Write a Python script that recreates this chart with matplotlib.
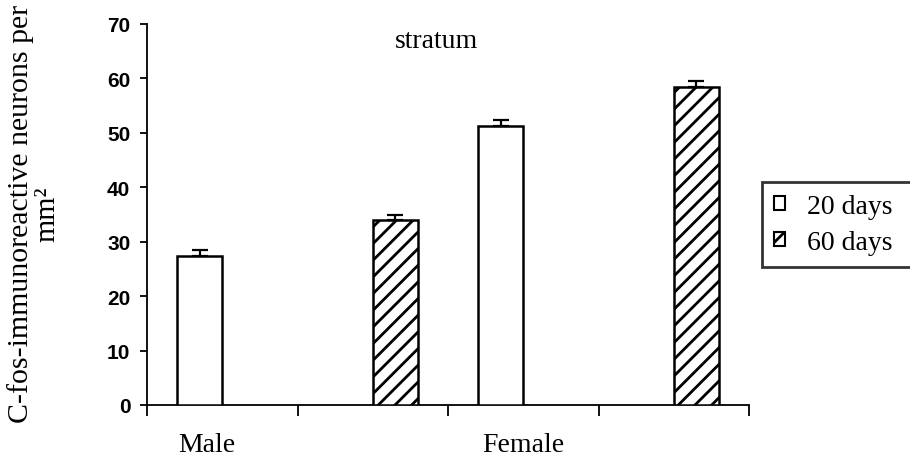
import numpy as np
import matplotlib
matplotlib.use("Agg")
import matplotlib.pyplot as plt
from matplotlib.patches import Patch

# values
groups = ["Male", "Female"]
series = ["20 days", "60 days"]
days20 = [27.4, 51.2]
days60 = [34.0, 58.5]
err20 = [1.1, 1.1]
err60 = [1.0, 1.1]
yticks = [0, 10, 20, 30, 40, 50, 60, 70]

plt.rcParams["hatch.linewidth"] = 2.0
serif = "Liberation Serif"
sans = "Liberation Sans"

fig = plt.figure(figsize=(9.1, 4.6), dpi=100)
ax = fig.add_axes([147/910, 1 - 406/460, (749 - 147)/910, (406 - 25)/460])

# excel style clustered layout: each group takes two category slots
base = np.arange(len(groups)) * 2
x20 = base + 0.35
x60 = base + 1.65
w = 0.3

ax.bar(x20, days20, width=w, color="white", edgecolor="black", linewidth=1.8,
       yerr=[np.zeros(len(err20)), err20], capsize=5.5,
       error_kw=dict(elinewidth=1.6, capthick=1.6, ecolor="black"), zorder=3)
ax.bar(x60, days60, width=w, color="white", edgecolor="black", linewidth=1.8,
       hatch="//", yerr=[np.zeros(len(err60)), err60], capsize=5.5,
       error_kw=dict(elinewidth=1.6, capthick=1.6, ecolor="black"), zorder=3)

ax.set_xlim(0, len(groups) * 2)
ax.set_ylim(0, 70)
ax.set_yticks(yticks)
ax.set_yticklabels([str(v) for v in yticks], fontsize=15, family=sans,
                   fontweight="bold")
ax.set_xticks(np.arange(len(groups) * 2 + 1))
ax.set_xticklabels([])
ax.tick_params(axis="y", direction="out", length=5, width=1.3, pad=7)
ax.tick_params(axis="x", direction="out", length=8, width=1.3)
for s in ["top", "right"]:
    ax.spines[s].set_visible(False)
for s in ["left", "bottom"]:
    ax.spines[s].set_linewidth(1.3)

# group labels below the axis
ax.text(0.40, -0.12, groups[0], transform=ax.get_xaxis_transform(),
        ha="center", va="baseline", fontsize=20, family=serif)
ax.text(2.50, -0.12, groups[1], transform=ax.get_xaxis_transform(),
        ha="center", va="baseline", fontsize=20, family=serif)

ax.text(436/910, 1 - 42/460, "stratum", transform=fig.transFigure,
        ha="center", va="center", fontsize=20, family=serif)

fig.text(34/910, 1 - 214/460, "C-fos-immunoreactive neurons per\nmm²",
         rotation=90, ha="center", va="center", multialignment="center",
         fontsize=21.5, family=serif, linespacing=1.0)

handles = [Patch(facecolor="white", edgecolor="black", linewidth=1.5),
           Patch(facecolor="white", edgecolor="black", linewidth=1.5, hatch="//")]
leg = fig.legend(handles, series, loc="upper left", mode="expand",
                 bbox_to_anchor=(762/910, 1 - 183/460, 170/910, 0),
                 prop=dict(family=serif, size=20), frameon=True, fancybox=False,
                 handlelength=0.4, handleheight=0.4, handletextpad=0.8,
                 borderpad=0.42, labelspacing=0.42, borderaxespad=0)
leg.get_frame().set_edgecolor("black")
leg.get_frame().set_linewidth(2)

fig.savefig("out.png", dpi=100)
